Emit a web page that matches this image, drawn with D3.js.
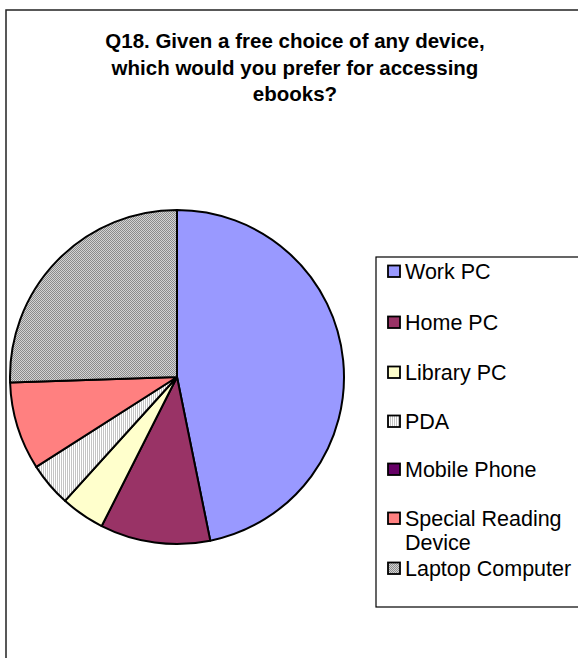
<!DOCTYPE html>
<html>
<head>
<meta charset="utf-8">
<script src="https://cdn.jsdelivr.net/npm/d3@7/dist/d3.min.js"></script>
<style>
  html, body { margin: 0; padding: 0; background: #fff; }
  svg { display: block; }
</style>
</head>
<body>
<svg id="chart" width="578" height="658"></svg>
<script>
// Survey responses: preferred device for accessing ebooks
const categories = ["Work PC", "Home PC", "Library PC", "PDA", "Mobile Phone", "Special Reading Device", "Laptop Computer"];
const counts = [22, 5, 2, 2, 0, 4, 12];
const titleLines = ["Q18. Given a free choice of any device,", "which would you prefer for accessing", "ebooks?"];
const legendLines = [["Work PC"], ["Home PC"], ["Library PC"], ["PDA"], ["Mobile Phone"], ["Special Reading", "Device"], ["Laptop Computer"]];

const svg = d3.select("#chart");
const W = 578, H = 658;
const font = "'Liberation Sans', Arial, sans-serif";

// fill patterns for the textured slices
const defs = svg.append("defs");
const stripes = defs.append("pattern").attr("id", "pda-fill")
  .attr("patternUnits", "userSpaceOnUse").attr("width", 2).attr("height", 2);
stripes.append("rect").attr("width", 2).attr("height", 2).attr("fill", "#ffffff");
stripes.append("rect").attr("width", 1).attr("height", 2).attr("fill", "#c4c4c4");

const checker = defs.append("pattern").attr("id", "laptop-fill")
  .attr("patternUnits", "userSpaceOnUse").attr("width", 2).attr("height", 2);
checker.append("rect").attr("width", 2).attr("height", 2).attr("fill", "#d4d4d4");
checker.append("rect").attr("width", 1).attr("height", 1).attr("fill", "#8c8c8c");
checker.append("rect").attr("x", 1).attr("y", 1).attr("width", 1).attr("height", 1).attr("fill", "#8c8c8c");

const color = d3.scaleOrdinal()
  .domain(categories)
  .range(["#9999ff", "#993366", "#ffffcc", "url(#pda-fill)", "#660066", "#ff8080", "url(#laptop-fill)"]);

// chart frame (extends past the right and bottom edges)
svg.append("rect")
  .attr("x", 6).attr("y", 10).attr("width", W + 20).attr("height", H + 20)
  .attr("fill", "none").attr("stroke", "#222").attr("stroke-width", 1.5);

// title
const title = svg.append("text")
  .attr("text-anchor", "middle")
  .attr("font-family", font).attr("font-weight", "bold").attr("font-size", 20.5)
  .attr("fill", "#000");
titleLines.forEach((t, i) => {
  title.append("tspan").attr("x", 295).attr("y", 48 + i * 26.7).text(t);
});

// pie
const cx = 177, cy = 377, r = 167;
const data = categories.map((c, i) => ({ cat: c, value: counts[i] }));
const pie = d3.pie().sort(null).value(d => d.value);
const arc = d3.arc().innerRadius(0).outerRadius(r);

svg.append("g").attr("transform", `translate(${cx},${cy})`)
  .selectAll("path")
  .data(pie(data).filter(d => d.data.value > 0))
  .join("path")
  .attr("d", arc)
  .attr("fill", d => color(d.data.cat))
  .attr("stroke", "#000")
  .attr("stroke-width", 2)
  .attr("stroke-linejoin", "round");

// legend
svg.append("rect")
  .attr("x", 376).attr("y", 257).attr("width", 220).attr("height", 350)
  .attr("fill", "#fff").attr("stroke", "#000").attr("stroke-width", 1.2);

const legendY = [271, 322, 372, 421, 469, 518, 568];
const lg = svg.append("g");
categories.forEach((c, i) => {
  const y = legendY[i];
  lg.append("rect")
    .attr("x", 388).attr("y", y - 5.5).attr("width", 12).attr("height", 11.5)
    .attr("fill", color(c)).attr("stroke", "#000").attr("stroke-width", 1.8);
  const t = lg.append("text")
    .attr("font-family", font).attr("font-size", 21.5).attr("fill", "#000");
  legendLines[i].forEach((line, j) => {
    t.append("tspan").attr("x", 405).attr("y", y + 7.5 + j * 24.5).text(line);
  });
});
</script>
</body>
</html>
